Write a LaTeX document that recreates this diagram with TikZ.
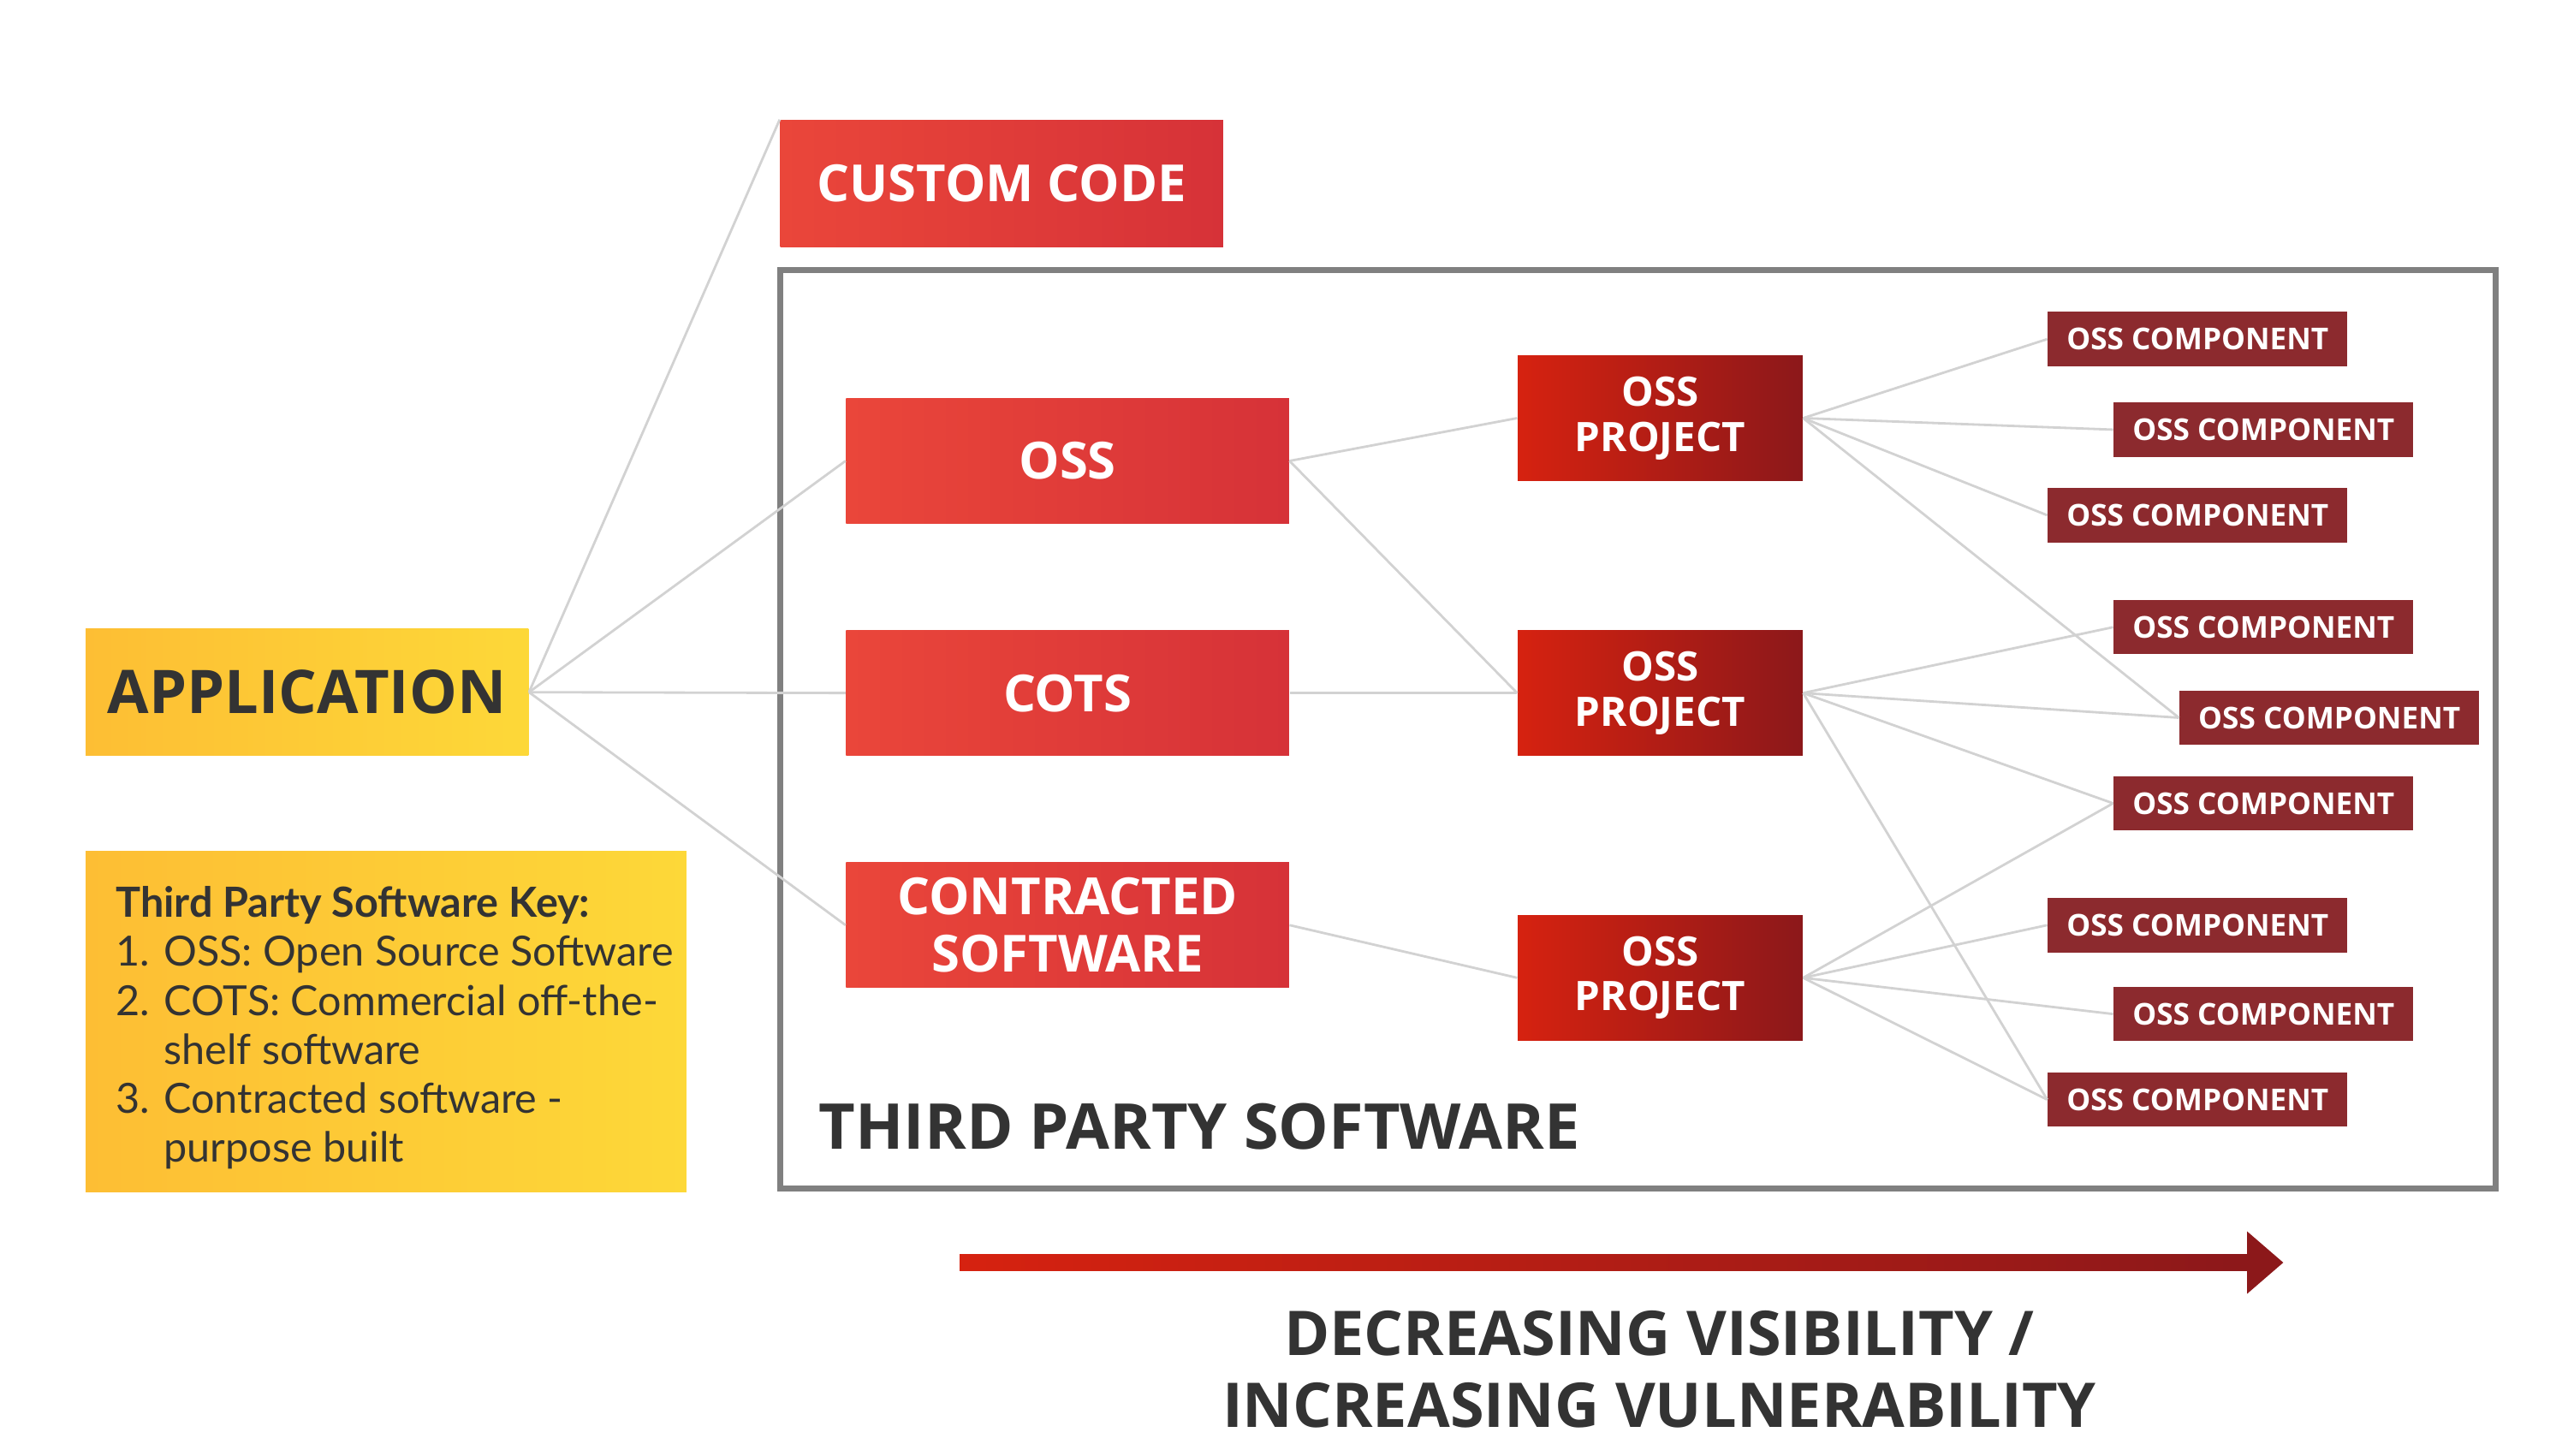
\documentclass[tikz,border=0pt]{standalone}
\usepackage{fontspec}
\setmainfont{Open Sans}
\newfontfamily\keyfont{Lato}
\usetikzlibrary{arrows.meta}
\definecolor{txt}{HTML}{333333}
\definecolor{comp}{HTML}{8C2A2E}
\definecolor{rl}{RGB}{234,70,58}
\definecolor{rr}{RGB}{214,50,56}
\definecolor{pl}{RGB}{214,34,16}
\definecolor{pr}{RGB}{140,24,26}
\definecolor{yl}{RGB}{253,190,52}
\definecolor{yr}{RGB}{253,216,56}
\definecolor{lgray}{RGB}{210,210,210}
\definecolor{fgray}{RGB}{128,128,128}
\tikzset{
 redbox/.style={shading=axis, left color=rl, right color=rr, text=white, font=\bfseries\fontsize{17}{19}\selectfont, align=center, inner sep=0},
 projbox/.style={shading=axis, left color=pl, right color=pr, text=white, font=\bfseries\fontsize{13.5}{15}\selectfont, align=center, inner sep=0},
 compbox/.style={fill=comp, text=white, font=\bfseries\fontsize{10}{12}\selectfont, inner sep=0, minimum width=182*0.01923cm, minimum height=33*0.01923cm},
 conn/.style={draw=lgray, line width=0.8pt}
}
\begin{document}
\begin{tikzpicture}[x=0.01923cm,y=-0.01923cm]
\useasboundingbox (0,0) rectangle (1560,884);
\def\bx(#1,#2,#3,#4)#5#6#7{\node[#6, minimum width=(#3-#1)*0.01923cm, minimum height=(#4-#2)*0.01923cm] (#5) at ({(#1+#3)/2},{(#2+#4)/2}) {#7};}
\bx(474,73,743,150){cc}{redbox}{CUSTOM CODE}
\draw[draw=fgray, line width=2.2pt] (474,164) rectangle (1516,722);
\node[anchor=base west, text=txt, font=\bfseries\fontsize{21}{24}\selectfont] (tps) at (491,698) {THIRD PARTY SOFTWARE};
\bx(514,242,783,318){oss}{redbox}{OSS}
\bx(514,383,783,459){cots}{redbox}{COTS}
\bx(514,524,783,600){con}{redbox}{CONTRACTED\\SOFTWARE}
\bx(52,382,321,459){app}{shading=axis,left color=yl,right color=yr,text=txt,font=\bfseries\fontsize{20}{22}\selectfont,inner sep=0}{APPLICATION}
\bx(922,216,1095,292){p1}{projbox}{OSS\\PROJECT}
\bx(922,383,1095,459){p2}{projbox}{OSS\\PROJECT}
\bx(922,556,1095,632){p3}{projbox}{OSS\\PROJECT}
\node[compbox] (c1) at (1335,206) {OSS COMPONENT};
\node[compbox] (c2) at (1375,261) {OSS COMPONENT};
\node[compbox] (c3) at (1335,313) {OSS COMPONENT};
\node[compbox] (c4) at (1375,381) {OSS COMPONENT};
\node[compbox] (c5) at (1415,436) {OSS COMPONENT};
\node[compbox] (c6) at (1375,488) {OSS COMPONENT};
\node[compbox] (c7) at (1335,562) {OSS COMPONENT};
\node[compbox] (c8) at (1375,616) {OSS COMPONENT};
\node[compbox] (c9) at (1335,668) {OSS COMPONENT};
\node[shading=axis,left color=yl,right color=yr,minimum width=365*0.01923cm,minimum height=207*0.01923cm,inner sep=0] (key) at (234.5,620.5) {};
\node[anchor=north west, text=txt, align=left, font=\keyfont\fontsize{13.8}{16.3}\selectfont, inner sep=0] (keyt) at (70,538) {{\bfseries Third Party Software Key:}\\
1. OSS: Open Source Software\\
2. COTS: Commercial off-the-\\
\hphantom{2. }shelf software\\
3. Contracted software -\\
\hphantom{3. }purpose built};
\draw[conn] (app.east) -- (cc.north west);
\draw[conn] (app.east) -- (oss.west);
\draw[conn] (app.east) -- (cots.west);
\draw[conn] (app.east) -- (con.west);
\draw[conn] (oss.east) -- (p1.west);
\draw[conn] (oss.east) -- (p2.west);
\draw[conn] (cots.east) -- (p2.west);
\draw[conn] (con.east) -- (p3.west);
\foreach \c in {c1,c2,c3,c5} \draw[conn] (p1.east) -- (\c.west);
\foreach \c in {c4,c5,c6,c9} \draw[conn] (p2.east) -- (\c.west);
\foreach \c in {c6,c7,c8,c9} \draw[conn] (p3.east) -- (\c.west);
\shade[left color=pl, right color=pr] (583,762) rectangle (1366,772);
\fill[pr] (1365,748) -- (1387,767) -- (1365,786) -- cycle;
\node[text=txt, font=\bfseries\fontsize{20.5}{24}\selectfont, align=center] (dv) at (1008,832) {DECREASING VISIBILITY /\\INCREASING VULNERABILITY};
\end{tikzpicture}
\end{document}
